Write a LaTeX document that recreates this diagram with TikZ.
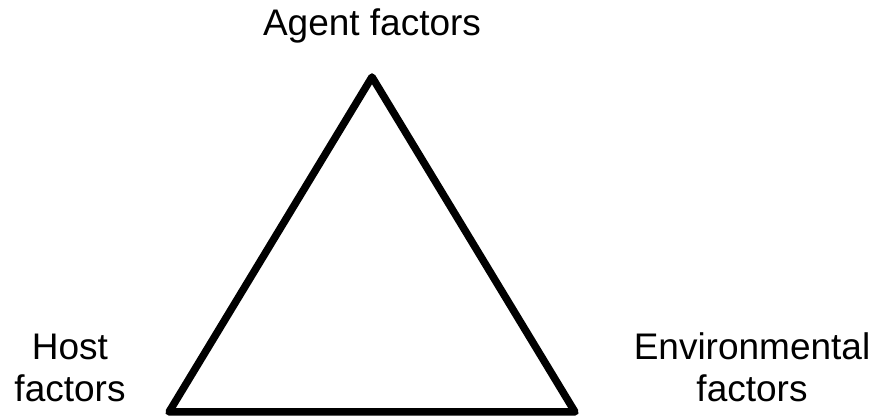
\documentclass[tikz,border=0pt]{standalone}
\usepackage{fontspec}
\setmainfont{Liberation Sans}
\begin{document}
\begin{tikzpicture}[x=1pt,y=1pt,
  lbl/.style={inner sep=0pt, align=center, font=\fontsize{37}{42}\selectfont},
  edge/.style={line width=7.5pt, line join=round}]
\useasboundingbox[fill=white] (0,0) rectangle (874,419);
\coordinate (A) at (372,342);
\coordinate (H) at (169,7);
\coordinate (E) at (575,7);
\draw[edge] (A) -- (H) -- (E) -- cycle;
\node[lbl, anchor=base] (agent) at (372,383) {Agent factors};
\node[lbl, anchor=base] (host) at (70,17) {Host\\factors};
\node[lbl, anchor=base] (env) at (752,17) {Environmental\\factors};
\end{tikzpicture}
\end{document}
